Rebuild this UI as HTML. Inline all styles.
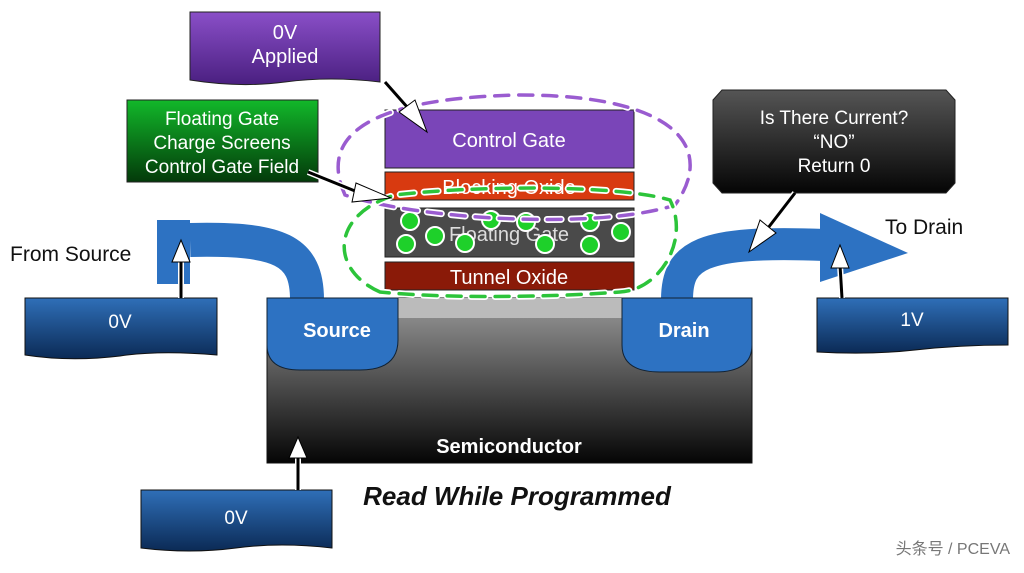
<!DOCTYPE html>
<html><head><meta charset="utf-8"><style>
body{margin:0;background:#fff;width:1024px;height:568px;overflow:hidden}
svg text{font-family:"Liberation Sans","Noto Sans CJK SC",sans-serif}
</style></head><body>
<svg width="1024" height="568" viewBox="0 0 1024 568">
<defs>
<linearGradient id="blu" x1="0" y1="0" x2="0" y2="1"><stop offset="0" stop-color="#2f6fb8"/><stop offset="1" stop-color="#0b2a55"/></linearGradient>
<linearGradient id="semi" x1="0" y1="0" x2="0" y2="1"><stop offset="0" stop-color="#9a9a9a"/><stop offset="1" stop-color="#050505"/></linearGradient>
<linearGradient id="blk" x1="0" y1="0" x2="0" y2="1"><stop offset="0" stop-color="#555"/><stop offset="1" stop-color="#050505"/></linearGradient>
<linearGradient id="pur" x1="0" y1="0" x2="0" y2="1"><stop offset="0" stop-color="#8a4fc8"/><stop offset="1" stop-color="#4a1f80"/></linearGradient>
<linearGradient id="grn" x1="0" y1="0" x2="0" y2="1"><stop offset="0" stop-color="#12b82a"/><stop offset="1" stop-color="#033a0a"/></linearGradient>
</defs>
<path d="M307 300 C307 250 280 238 190 240" fill="none" stroke="#2d72c2" stroke-width="34"/>
<rect x="157" y="220" width="33" height="64" fill="#2d72c2"/>
<path d="M677 300 C677 255 700 240 825 245" fill="none" stroke="#2d72c2" stroke-width="32"/>
<path d="M820 213 L908 253 L820 282 Z" fill="#2d72c2"/>
<rect x="267" y="298" width="485" height="165" fill="url(#semi)" stroke="#111"/>
<rect x="398" y="298" width="224" height="20" fill="#bbb"/>
<path d="M267 298 H398 V340 Q398 370 360 370 H300 Q267 370 267 345 Z" fill="#2d72c2" stroke="#123" />
<path d="M622 298 H752 V345 Q752 372 715 372 H660 Q622 372 622 345 Z" fill="#2d72c2" stroke="#123"/>
<text x="337" y="337" fill="#fff" font-size="20" font-weight="bold" text-anchor="middle">Source</text>
<text x="684" y="337" fill="#fff" font-size="20" font-weight="bold" text-anchor="middle">Drain</text>
<text x="509" y="453" fill="#fff" font-size="20" font-weight="bold" text-anchor="middle">Semiconductor</text>
<rect x="385" y="110" width="249" height="58" fill="#7a45b8" stroke="#222"/>
<text x="509" y="147" fill="#fff" font-size="20" text-anchor="middle">Control Gate</text>
<rect x="385" y="172" width="249" height="28" fill="#d83a10" stroke="#222"/>
<text x="509" y="194" fill="#fff" font-size="20" text-anchor="middle">Blocking Oxide</text>
<rect x="385" y="208" width="249" height="49" fill="#4a4a4a" stroke="#222"/>
<text x="509" y="241" fill="#ddd" font-size="20" text-anchor="middle">Floating Gate</text>
<rect x="385" y="262" width="249" height="28" fill="#8a1a08" stroke="#222"/>
<text x="509" y="284" fill="#fff" font-size="20" text-anchor="middle">Tunnel Oxide</text>
<g fill="#1ed02a" stroke="#fff" stroke-width="2">
<circle cx="410" cy="221" r="9"/><circle cx="406" cy="244" r="9"/><circle cx="435" cy="236" r="9"/><circle cx="465" cy="243" r="9"/><circle cx="491" cy="220" r="9"/><circle cx="526" cy="222" r="9"/><circle cx="545" cy="244" r="9"/><circle cx="590" cy="222" r="9"/><circle cx="590" cy="245" r="9"/><circle cx="621" cy="232" r="9"/>
</g>
<path d="M345 195 C320 140 360 98 520 95 C680 95 715 150 675 205 C600 230 420 220 345 195 Z" fill="none" stroke="#fff" stroke-width="7" stroke-dasharray="14 10" stroke-linecap="round"/>
<path d="M345 195 C320 140 360 98 520 95 C680 95 715 150 675 205 C600 230 420 220 345 195 Z" fill="none" stroke="#9a5cd0" stroke-width="3.5" stroke-dasharray="14 10" stroke-linecap="round"/>
<path d="M380 292 C330 270 330 215 395 195 C480 185 620 185 670 200 C690 240 660 290 620 292 C540 298 440 298 380 292 Z" fill="none" stroke="#fff" stroke-width="7" stroke-dasharray="14 10" stroke-linecap="round"/>
<path d="M380 292 C330 270 330 215 395 195 C480 185 620 185 670 200 C690 240 660 290 620 292 C540 298 440 298 380 292 Z" fill="none" stroke="#2cc43a" stroke-width="3.5" stroke-dasharray="14 10" stroke-linecap="round"/>
<path d="M190 12 H380 V82 Q330 76 285 82 Q240 88 190 80 Z" fill="url(#pur)" stroke="#222"/>
<text x="285" y="39" fill="#fff" font-size="20" text-anchor="middle">0V</text>
<text x="285" y="63" fill="#fff" font-size="20" text-anchor="middle">Applied</text>
<rect x="127" y="100" width="191" height="82" fill="url(#grn)" stroke="#222"/>
<text x="222" y="125" fill="#fff" font-size="19" text-anchor="middle">Floating Gate</text>
<text x="222" y="149" fill="#fff" font-size="19" text-anchor="middle">Charge Screens</text>
<text x="222" y="173" fill="#fff" font-size="19" text-anchor="middle">Control Gate Field</text>
<path d="M722 90 H946 L955 100 V183 L946 193 H722 L713 183 V100 Z" fill="url(#blk)" stroke="#222"/>
<text x="834" y="124" fill="#fff" font-size="19" text-anchor="middle">Is There Current?</text>
<text x="834" y="148" fill="#fff" font-size="19" text-anchor="middle">“NO”</text>
<text x="834" y="172" fill="#fff" font-size="19" text-anchor="middle">Return 0</text>
<path d="M25 298 H217 V355 Q160 350 120 356 Q70 362 25 355 Z" fill="url(#blu)" stroke="#111"/>
<text x="120" y="328" fill="#fff" font-size="19" text-anchor="middle">0V</text>
<path d="M817 298 H1008 V345 Q960 345 915 350 Q870 355 817 352 Z" fill="url(#blu)" stroke="#111"/>
<text x="912" y="326" fill="#fff" font-size="19" text-anchor="middle">1V</text>
<path d="M141 490 H332 V548 Q280 542 236 548 Q190 554 141 548 Z" fill="url(#blu)" stroke="#111"/>
<text x="236" y="524" fill="#fff" font-size="19" text-anchor="middle">0V</text>
<g stroke-linecap="butt">
<line x1="181" y1="298" x2="181" y2="258" stroke="#fff" stroke-width="6"/><line x1="181" y1="298" x2="181" y2="258" stroke="#000" stroke-width="3"/>
<path d="M172 262 L181 240 L190 262 Z" fill="#fff" stroke="#000" stroke-width="1"/>
<line x1="298" y1="490" x2="298" y2="455" stroke="#fff" stroke-width="6"/><line x1="298" y1="490" x2="298" y2="455" stroke="#000" stroke-width="3"/>
<path d="M289 458 L298 437 L307 458 Z" fill="#fff" stroke="#000" stroke-width="1"/>
<line x1="842" y1="298" x2="840" y2="265" stroke="#fff" stroke-width="6"/><line x1="842" y1="298" x2="840" y2="265" stroke="#000" stroke-width="3"/>
<path d="M831 268 L840 245 L849 268 Z" fill="#fff" stroke="#000" stroke-width="1"/>
<line x1="795" y1="193" x2="768" y2="228" stroke="#fff" stroke-width="6"/><line x1="795" y1="193" x2="768" y2="228" stroke="#000" stroke-width="3"/>
<path d="M760 220 L749 252 L776 233 Z" fill="#fff" stroke="#000" stroke-width="1"/>
<line x1="308" y1="172" x2="360" y2="193" stroke="#fff" stroke-width="6"/><line x1="308" y1="172" x2="360" y2="193" stroke="#000" stroke-width="3"/>
<path d="M356 183 L391 198 L352 202 Z" fill="#fff" stroke="#000" stroke-width="1"/>
<line x1="385" y1="82" x2="408" y2="108" stroke="#fff" stroke-width="6"/><line x1="385" y1="82" x2="408" y2="108" stroke="#000" stroke-width="3"/>
<path d="M399 112 L427 132 L415 100 Z" fill="#fff" stroke="#000" stroke-width="1"/>
</g>
<text x="10" y="261" fill="#111" font-size="21">From Source</text>
<text x="885" y="234" fill="#111" font-size="21">To Drain</text>
<text x="517" y="505" fill="#111" font-size="26" font-weight="bold" font-style="italic" text-anchor="middle">Read While Programmed</text>
<text x="1010" y="554" fill="#777" font-size="16" text-anchor="end">头条号 / PCEVA</text>
</svg>
</body></html>
